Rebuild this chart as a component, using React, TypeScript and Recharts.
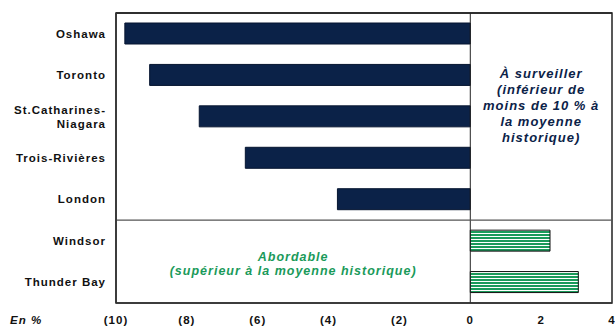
import { BarChart, Bar, XAxis, YAxis, ReferenceLine, ReferenceArea, Cell } from 'recharts'

const villes = ['Oshawa', 'Toronto', 'St.Catharines-\nNiagara', 'Trois-Rivières', 'London', 'Windsor', 'Thunder Bay']
const ecarts = [-9.75, -9.05, -7.65, -6.35, -3.75, 2.25, 3.05]
const xTicks = [-10, -8, -6, -4, -2, 0, 2, 4]
const texteSurveiller = ['À surveiller', '(inférieur de', 'moins de 10 % à', 'la moyenne', 'historique)']
const texteAbordable = ['Abordable', '(supérieur à la moyenne historique)']

const data = villes.map((ville, i) => ({ ville, ecart: ecarts[i] }))

const FONT = 'Arial, "Liberation Sans", sans-serif'
const NAVY = '#0b2248'
const GREEN = '#1a9a5a'

const fmt = (v: number) => (v < 0 ? `(${Math.abs(v)})` : `${v}`)

function VilleTick({ x, y, payload }: any) {
  const lines = String(payload.value).split('\n')
  const y0 = y - ((lines.length - 1) * 14) / 2
  return (
    <text x={x} y={y0} textAnchor="end" dominantBaseline="central" fontFamily={FONT} fontWeight="bold" fontSize={11.5} letterSpacing={1} fill="#111">
      {lines.map((l, i) => (
        <tspan key={i} x={x} dy={i === 0 ? 0 : 14}>{l}</tspan>
      ))}
    </text>
  )
}

function ZoneLabel({ viewBox, lines, color, lineH, shift, size }: any) {
  const cx = viewBox.x + viewBox.width / 2
  const cy = viewBox.y + viewBox.height / 2 + (shift || 0)
  const y0 = cy - ((lines.length - 1) * lineH) / 2
  return (
    <text x={cx} y={y0} textAnchor="middle" dominantBaseline="central" fontFamily={FONT} fontWeight="bold" fontStyle="italic" fontSize={size} letterSpacing={1} fill={color}>
      {lines.map((l: string, i: number) => (
        <tspan key={i} x={cx} dy={i === 0 ? 0 : lineH}>{l}</tspan>
      ))}
    </text>
  )
}

export default function App() {
  return (
    <div style={{ position: 'relative', width: 615, height: 329, background: '#fff' }}>
      <style>{'body{margin:0}'}</style>
      <BarChart width={615} height={329} data={data} layout="vertical" margin={{ top: 13, right: 3, left: 0, bottom: 0 }}>
        <defs>
          <pattern id="rayures" width={6} height={3} patternUnits="userSpaceOnUse">
            <rect width={6} height={3} fill="#fff" />
            <rect width={6} height={2} fill={GREEN} />
          </pattern>
        </defs>
        <XAxis
          type="number"
          domain={[-10, 4]}
          ticks={xTicks}
          tickFormatter={fmt}
          height={26}
          tickSize={0}
          tickMargin={13}
          axisLine={{ stroke: '#333', strokeWidth: 1.5 }}
          tick={{ fontFamily: FONT, fontWeight: 'bold', fontSize: 11.5, fill: '#111', letterSpacing: 1 }}
          interval={0}
        />
        <YAxis
          type="category"
          dataKey="ville"
          width={116}
          tickSize={0}
          tickMargin={10}
          axisLine={{ stroke: '#333', strokeWidth: 1.5 }}
          tick={<VilleTick />}
          interval={0}
        />
        <ReferenceArea
          x1={0}
          x2={4}
          y1={villes[0]}
          y2={villes[4]}
          fill="none"
          stroke="none"
          label={<ZoneLabel lines={texteSurveiller} color={NAVY} lineH={16} shift={-12} size={13} />}
        />
        <ReferenceArea
          x1={-10}
          x2={0}
          y1={villes[5]}
          y2={villes[6]}
          fill="none"
          stroke="none"
          label={<ZoneLabel lines={texteAbordable} color={GREEN} lineH={14} shift={2} size={12.5} />}
        />
        <Bar dataKey="ecart" barSize={21} isAnimationActive={false}>
          {data.map((d, i) => (
            <Cell key={i} fill={d.ecart < 0 ? NAVY : 'url(#rayures)'} stroke={d.ecart < 0 ? '#061530' : '#111'} strokeWidth={1} />
          ))}
        </Bar>
        <ReferenceLine x={0} stroke="#222" strokeWidth={1} />
        <ReferenceLine y={villes[5]} position="start" stroke="#555" strokeWidth={1.2} />
        <ReferenceLine y={villes[0]} position="start" stroke="#222" strokeWidth={1.5} ifOverflow="visible" />
        <ReferenceArea x1={-10} x2={4} y1={villes[0]} y2={villes[6]} fill="none" stroke="#222" strokeWidth={1.5} ifOverflow="visible" />
      </BarChart>
      <div style={{ position: 'absolute', left: 10, top: 314, fontFamily: FONT, fontWeight: 'bold', fontStyle: 'italic', fontSize: 11.5, letterSpacing: 1, color: '#111' }}>
        En %
      </div>
    </div>
  )
}
